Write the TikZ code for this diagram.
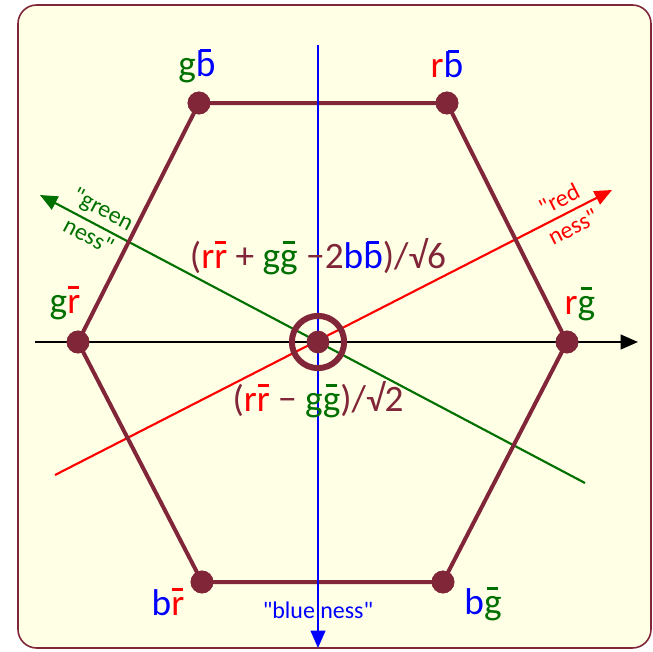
\documentclass[tikz,border=0pt]{standalone}
\usepackage{fontspec}
\setmainfont{Carlito}
\newfontfamily\tagfont{Carlito}
\usepackage{xcolor}
\definecolor{maroon}{RGB}{128,38,56}
\definecolor{cream}{RGB}{255,255,230}
\definecolor{leaf}{RGB}{0,112,0}
\definecolor{qred}{RGB}{255,0,0}
\definecolor{qblue}{RGB}{0,0,255}
\usetikzlibrary{arrows.meta,positioning}
% anti-colour bar
\newsavebox{\qbox}
\newcommand{\qbar}[1]{\sbox{\qbox}{#1}%
  \makebox[0pt][l]{\makebox[\wd\qbox]{\raisebox{0.64em}{\rule{0.3em}{0.08em}}}}%
  \usebox{\qbox}}

\begin{document}
\begin{tikzpicture}[x=0.0264cm,y=-0.0264cm,
  edge/.style={draw=maroon,line width=3pt},
  vdot/.style={circle,fill=maroon,inner sep=0pt,minimum size=0.6cm},
  ring/.style={circle,draw=maroon,line width=4.5pt,inner sep=0pt,minimum size=1.38cm},
  axisline/.style={line width=1.6pt,-{Triangle[length=13pt,width=11pt]}},
  quark/.style={font=\fontsize{28}{32}\selectfont,anchor=base,inner sep=0pt},
  tag/.style={font=\tagfont\fontsize{18}{23}\selectfont,align=center,inner sep=0pt},
]
  \useasboundingbox (0,0) rectangle (653,652);
  \draw[fill=cream,draw=maroon,line width=1.2pt,rounded corners=14pt]
    (18,5) rectangle (651,648);

  % axes
  \coordinate (gstart) at (585,483);
  \coordinate (gend) at (40,195);
  \coordinate (rstart) at (55,475);
  \coordinate (rend) at (612,190);
  \coordinate (kstart) at (35,342);
  \coordinate (kend) at (638,342);
  \coordinate (bstart) at (318,45);
  \coordinate (bend) at (318,648);
  \draw[axisline,leaf] (gstart) -- (gend);
  \draw[axisline,qred] (rstart) -- (rend);
  \draw[axisline,black] (kstart) -- (kend);

  % hexagon
  \node[vdot](GB) at (199,103) {};
  \node[vdot](RB) at (447,103) {};
  \node[vdot](RG) at (567,342) {};
  \node[vdot](BG) at (443,582) {};
  \node[vdot](BR) at (202,582) {};
  \node[vdot](GR) at (78,342) {};
  \draw[edge] (GB.center) -- (RB.center) -- (RG.center) -- (BG.center)
    -- (BR.center) -- (GR.center) -- cycle;
  \foreach \v in {GB,RB,RG,BG,BR,GR} \node[vdot] at (\v) {};

  \draw[axisline,qblue] (bstart) -- (bend);

  \node[ring](C) at (318,342) {};
  \node[vdot] at (C) {};

  % labels
  \node[quark] (lGB) at (197,76) {\textcolor{leaf}{g}\textcolor{qblue}{\qbar{b}}};
  \node[quark] (lRB) at (447,77) {\textcolor{qred}{r}\textcolor{qblue}{\qbar{b}}};
  \node[quark] (lGR) at (65,313) {\textcolor{leaf}{g}\textcolor{qred}{\qbar{r}}};
  \node[quark] (lRG) at (580,314) {\textcolor{qred}{r}\textcolor{leaf}{\qbar{g}}};
  \node[quark] (lBR) at (168,615) {\textcolor{qblue}{b}\textcolor{qred}{\qbar{r}}};
  \node[quark] (lBG) at (483,614) {\textcolor{qblue}{b}\textcolor{leaf}{\qbar{g}}};

  \node[quark,text=maroon] (sing) at (318,268)
    {(\textcolor{qred}{r\qbar{r}} + \textcolor{leaf}{g\qbar{g}} −2\textcolor{qblue}{b\qbar{b}})/√6};
  \node[quark,text=maroon] (trip) at (318,411)
    {(\textcolor{qred}{r\qbar{r}} − \textcolor{leaf}{g\qbar{g}})/√2};

  \node[tag,text=leaf,rotate=-28] (tgreen) at (96,222) {"green\\ness"};
  \node[tag,text=qred,rotate=27] (tred) at (566,213) {"red\\ness"};
  \node[tag,text=qblue,anchor=base] (tblue) at (318,618) {"blue ness"};
\end{tikzpicture}
\end{document}
